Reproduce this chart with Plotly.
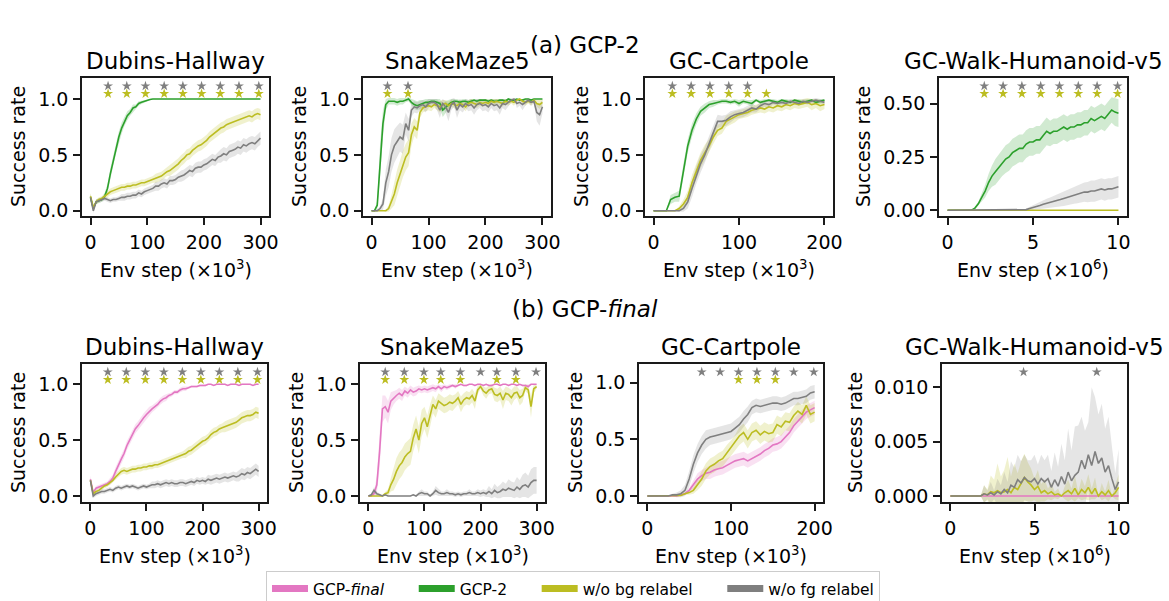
import plotly.graph_objects as go

W, H = 1169, 601
FONT = "DejaVu Sans"
COLORS = {"final": "#e377c2", "gcp2": "#2ca02c", "bg": "#bcbd22", "fg": "#7f7f7f"}
FILLS = {"final": "rgba(227,119,194,0.22)", "gcp2": "rgba(44,160,44,0.22)",
         "bg": "rgba(188,189,34,0.22)", "fg": "rgba(127,127,127,0.2)"}
PAD = "\u00a0" * 5
NAMES = {"final": "GCP-<i>final</i>" + PAD, "gcp2": "GCP-2" + PAD, "bg": "w/o bg relabel" + PAD, "fg": "w/o fg relabel"}

# ---------------- x grids ----------------
steps_300 = list(range(0, 305, 5))          # Env step (x1e3)
steps_200 = list(range(0, 205, 5))          # Env step (x1e3)
steps_hum = [round(0.2 * i, 1) for i in range(51)]  # Env step (x1e6)

# ---------------- (a) GCP-2 : Dubins-Hallway ----------------
a_dub_gcp2 = [0.12,0.02,0.08,0.09,0.10,0.13,0.20,0.33,0.45,0.56,
              0.66,0.74,0.80,0.85,0.88,0.92,0.93,0.96,0.97,0.98,
              0.99,0.995,1.0,1.0,1.0,1.0,1.0,1.0,1.0,1.0,
              1.0,1.0,1.0,1.0,1.0,1.0,1.0,1.0,1.0,1.0,
              1.0,1.0,1.0,1.0,1.0,1.0,1.0,1.0,1.0,1.0,
              1.0,1.0,1.0,1.0,1.0,1.0,1.0,1.0,1.0,1.0,
              1.0]
a_dub_gcp2_sd = [0.03,0.02,0.02,0.02,0.02,0.03,0.04,0.05,0.05,0.05,
                 0.05,0.05,0.04,0.04,0.03,0.03,0.02,0.02,0.015,0.01,
                 0.01,0.005,0.003,0,0,0,0,0,0,0,
                 0,0,0,0,0,0,0,0,0,0,
                 0,0,0,0,0,0,0,0,0,0,
                 0,0,0,0,0,0,0,0,0,0,
                 0]
a_dub_bg = [0.13,0.03,0.08,0.10,0.11,0.13,0.15,0.17,0.18,0.19,
            0.20,0.21,0.21,0.22,0.22,0.23,0.23,0.24,0.25,0.25,
            0.26,0.27,0.28,0.29,0.30,0.31,0.33,0.35,0.36,0.38,
            0.40,0.42,0.45,0.47,0.50,0.51,0.54,0.56,0.58,0.59,
            0.61,0.63,0.66,0.68,0.70,0.72,0.74,0.75,0.77,0.78,
            0.79,0.80,0.81,0.82,0.83,0.84,0.85,0.84,0.86,0.87,
            0.86]
a_dub_bg_sd = [0.03,0.02,0.02,0.02,0.02,0.02,0.03,0.03,0.03,0.03,
               0.03,0.03,0.03,0.03,0.03,0.03,0.03,0.03,0.03,0.03,
               0.03,0.03,0.03,0.04,0.04,0.04,0.04,0.04,0.05,0.05,
               0.05,0.05,0.05,0.05,0.05,0.05,0.05,0.05,0.05,0.05,
               0.05,0.05,0.05,0.05,0.05,0.05,0.05,0.05,0.05,0.05,
               0.05,0.05,0.05,0.05,0.05,0.05,0.05,0.05,0.05,0.05,
               0.05]
a_dub_fg = [0.12,0.00,0.08,0.09,0.10,0.11,0.10,0.09,0.10,0.10,
            0.11,0.12,0.12,0.13,0.13,0.14,0.14,0.16,0.15,0.17,
            0.18,0.19,0.20,0.22,0.22,0.24,0.25,0.24,0.27,0.27,
            0.28,0.30,0.31,0.32,0.34,0.36,0.35,0.38,0.39,0.39,
            0.41,0.42,0.44,0.46,0.45,0.48,0.49,0.51,0.50,0.53,
            0.54,0.55,0.57,0.56,0.59,0.58,0.60,0.61,0.60,0.63,
            0.65]
a_dub_fg_sd = [0.03,0.02,0.02,0.02,0.02,0.02,0.02,0.02,0.02,0.02,
               0.02,0.03,0.03,0.03,0.03,0.03,0.03,0.03,0.03,0.03,
               0.03,0.03,0.03,0.04,0.04,0.04,0.04,0.04,0.04,0.04,
               0.04,0.04,0.05,0.05,0.05,0.05,0.05,0.05,0.05,0.05,
               0.05,0.05,0.05,0.05,0.05,0.05,0.06,0.06,0.06,0.06,
               0.06,0.06,0.06,0.06,0.06,0.06,0.06,0.06,0.06,0.06,
               0.06]

# ---------------- (a) GCP-2 : SnakeMaze5 ----------------
a_snk_gcp2 = [0,0,0.05,0.45,0.78,0.95,0.98,0.98,0.98,0.97,
              0.98,0.98,0.99,1.0,0.97,0.95,0.94,0.95,0.96,0.97,
              0.97,0.98,0.98,0.97,0.96,0.90,0.93,0.95,0.97,0.98,
              0.98,0.97,0.98,0.98,0.97,0.98,0.99,0.98,0.99,0.99,
              0.99,0.98,0.99,0.98,0.98,0.99,0.99,0.98,1.0,0.99,
              0.99,1.0,0.99,0.99,1.0,1.0,0.99,1.0,1.0,1.0,
              1.0]
a_snk_gcp2_sd = [0,0,0.04,0.15,0.12,0.05,0.03,0.03,0.03,0.03,
                 0.03,0.03,0.02,0.02,0.03,0.04,0.04,0.04,0.03,0.03,
                 0.03,0.02,0.02,0.03,0.04,0.06,0.05,0.04,0.03,0.02,
                 0.02,0.02,0.02,0.02,0.02,0.02,0.01,0.02,0.01,0.01,
                 0.01,0.02,0.01,0.02,0.02,0.01,0.01,0.02,0.0,0.01,
                 0.01,0.0,0.01,0.01,0.0,0.0,0.01,0.0,0.0,0.0,
                 0.0]
a_snk_bg = [0,0,0,0,0,0,0.02,0.08,0.15,0.25,
            0.33,0.42,0.48,0.52,0.68,0.75,0.72,0.88,0.92,0.93,
            0.94,0.93,0.95,0.94,0.93,0.95,0.96,0.94,0.96,0.95,
            0.94,0.96,0.95,0.93,0.96,0.97,0.96,0.95,0.97,0.96,
            0.97,0.96,0.98,0.97,0.98,0.97,0.96,0.98,0.97,0.98,
            0.97,0.99,1.0,0.98,0.97,0.98,0.97,0.99,0.96,0.95,
            0.97]
a_snk_bg_sd = [0,0,0,0,0,0.01,0.03,0.06,0.10,0.12,
               0.12,0.12,0.12,0.12,0.10,0.08,0.08,0.05,0.04,0.04,
               0.04,0.04,0.03,0.04,0.05,0.04,0.03,0.04,0.03,0.03,
               0.04,0.03,0.03,0.04,0.03,0.03,0.03,0.03,0.03,0.03,
               0.03,0.03,0.02,0.03,0.02,0.03,0.03,0.02,0.03,0.02,
               0.03,0.01,0.0,0.02,0.03,0.02,0.03,0.01,0.03,0.04,
               0.03]
a_snk_fg = [0,0,0,0.02,0.06,0.25,0.35,0.50,0.58,0.62,
            0.66,0.64,0.78,0.72,0.90,0.93,0.92,0.94,0.95,0.93,
            0.96,0.97,0.97,0.95,0.90,0.96,0.93,0.88,0.95,0.97,
            0.90,0.95,0.93,0.96,0.94,0.95,0.92,0.95,0.96,0.94,
            0.95,0.93,0.96,0.94,0.95,0.92,0.96,0.95,0.97,0.99,
            1.0,0.96,0.97,0.95,0.97,0.99,0.97,0.98,0.88,0.86,
            0.93]
a_snk_fg_sd = [0,0,0,0.02,0.05,0.12,0.14,0.15,0.15,0.14,
               0.13,0.13,0.10,0.10,0.06,0.05,0.05,0.04,0.04,0.05,
               0.04,0.03,0.03,0.05,0.07,0.04,0.05,0.08,0.05,0.04,
               0.07,0.05,0.05,0.04,0.05,0.05,0.06,0.05,0.04,0.05,
               0.05,0.05,0.04,0.05,0.05,0.06,0.04,0.05,0.03,0.02,
               0.0,0.04,0.03,0.05,0.03,0.02,0.03,0.02,0.08,0.10,
               0.06]

# ---------------- (a) GCP-2 : GC-Cartpole ----------------
a_cart_gcp2 = [0,0,0,0,0.10,0.12,0.13,0.36,0.58,0.72,
               0.82,0.89,0.92,0.95,0.96,0.97,0.98,0.98,0.97,0.98,
               0.96,0.98,0.97,0.96,0.99,0.97,0.98,0.99,0.98,0.97,
               0.99,0.98,0.97,0.99,0.98,0.97,0.98,0.99,0.97,0.98,
               0.99]
a_cart_gcp2_sd = [0,0,0,0,0.04,0.04,0.05,0.06,0.06,0.06,
                  0.05,0.04,0.04,0.03,0.03,0.02,0.02,0.02,0.02,0.02,
                  0.03,0.02,0.02,0.03,0.01,0.02,0.02,0.01,0.02,0.02,
                  0.01,0.02,0.02,0.01,0.02,0.02,0.02,0.01,0.02,0.02,
                  0.01]
a_cart_bg = [0,0,0,0,0,0,0.02,0.06,0.12,0.25,
             0.35,0.45,0.52,0.58,0.66,0.72,0.74,0.80,0.82,0.84,
             0.86,0.87,0.88,0.90,0.91,0.92,0.91,0.93,0.92,0.94,
             0.93,0.95,0.94,0.96,0.95,0.96,0.97,0.95,0.96,0.94,
             0.95]
a_cart_bg_sd = [0,0,0,0,0,0,0.02,0.04,0.06,0.07,
                0.07,0.07,0.07,0.06,0.06,0.05,0.05,0.05,0.05,0.05,
                0.04,0.04,0.04,0.04,0.04,0.04,0.04,0.04,0.04,0.04,
                0.04,0.04,0.04,0.04,0.04,0.04,0.04,0.05,0.04,0.05,
                0.04]
a_cart_fg = [0,0,0,0,0,0,0.0,0.02,0.08,0.20,
             0.32,0.42,0.50,0.60,0.70,0.80,0.80,0.81,0.84,0.86,
             0.87,0.88,0.90,0.92,0.91,0.94,0.96,0.95,0.97,0.96,
             0.97,0.96,0.98,0.97,0.96,0.98,0.97,0.98,0.99,0.98,
             0.97]
a_cart_fg_sd = [0,0,0,0,0,0,0.01,0.03,0.06,0.08,
                0.08,0.08,0.07,0.07,0.06,0.06,0.05,0.05,0.05,0.04,
                0.04,0.04,0.04,0.04,0.03,0.03,0.03,0.03,0.02,0.02,
                0.02,0.02,0.02,0.02,0.02,0.02,0.02,0.02,0.02,0.02,
                0.02]

# ---------------- (a) GCP-2 : GC-Walk-Humanoid-v5 ----------------
a_hum_gcp2 = [0,0,0,0,0,0,0,0,0.01,0.03,
              0.06,0.09,0.13,0.16,0.18,0.20,0.22,0.24,0.25,0.27,
              0.28,0.29,0.29,0.31,0.32,0.32,0.33,0.33,0.35,0.37,
              0.36,0.37,0.37,0.38,0.39,0.38,0.39,0.39,0.40,0.40,
              0.41,0.41,0.43,0.42,0.43,0.44,0.43,0.45,0.47,0.46,
              0.455]
a_hum_gcp2_sd = [0,0,0,0,0,0,0,0,0.005,0.01,
                 0.02,0.03,0.04,0.05,0.06,0.06,0.06,0.065,0.065,0.065,
                 0.065,0.065,0.065,0.065,0.065,0.065,0.065,0.065,0.065,0.065,
                 0.06,0.06,0.06,0.06,0.06,0.06,0.06,0.06,0.06,0.06,
                 0.06,0.06,0.06,0.06,0.06,0.06,0.06,0.06,0.06,0.065,
                 0.065]
a_hum_bg = [0,0,0,0,0,0,0,0,0,0,
            0,0,0,0,0,0,0,0,0,0,
            0,0,0,0,0,0,0,0,0,0,
            0,0,0,0,0,0,0,0,0,0,
            0,0,0,0,0,0,0,0,0,0,
            0]
a_hum_bg_sd = [0,0,0,0,0,0,0,0,0,0,
               0,0,0,0,0,0,0,0,0,0,
               0,0,0,0,0,0,0,0,0,0,
               0,0,0,0,0,0,0,0,0,0,
               0,0,0,0,0,0,0,0,0,0,
               0]
a_hum_fg = [0,0,0,0,0,0,0,0,0,0,
            0,0,0,0,0,0,0,0,0,0,
            0,0,0,0.003,0.008,0.012,0.018,0.022,0.028,0.032,
            0.035,0.040,0.045,0.050,0.055,0.060,0.065,0.070,0.075,0.080,
            0.085,0.085,0.090,0.090,0.095,0.100,0.095,0.100,0.100,0.105,
            0.110]
a_hum_fg_sd = [0,0,0,0,0,0,0,0,0,0,
               0,0,0,0,0,0,0,0,0,0,
               0,0,0.002,0.005,0.008,0.012,0.015,0.018,0.020,0.022,
               0.025,0.027,0.030,0.032,0.035,0.037,0.040,0.040,0.042,0.045,
               0.045,0.047,0.050,0.050,0.050,0.050,0.050,0.050,0.050,0.050,
               0.050]

# ---------------- (b) GCP-final : Dubins-Hallway ----------------
b_dub_final = [0.15,0.03,0.07,0.08,0.09,0.10,0.11,0.13,0.16,0.22,
               0.28,0.33,0.38,0.45,0.50,0.55,0.60,0.63,0.67,0.70,
               0.73,0.76,0.78,0.80,0.82,0.85,0.87,0.88,0.90,0.91,
               0.93,0.93,0.95,0.96,0.96,0.97,0.98,0.98,0.98,0.99,
               0.99,0.99,1.0,1.0,0.99,1.0,1.0,1.0,1.0,0.99,
               1.0,1.0,1.0,0.99,1.0,1.0,1.0,1.0,0.99,1.0,
               1.0]
b_dub_final_sd = [0.03,0.02,0.02,0.02,0.02,0.02,0.02,0.03,0.03,0.04,
                  0.04,0.04,0.04,0.04,0.04,0.04,0.04,0.04,0.04,0.04,
                  0.04,0.04,0.03,0.03,0.03,0.03,0.03,0.03,0.02,0.02,
                  0.02,0.02,0.02,0.02,0.02,0.01,0.01,0.01,0.01,0.01,
                  0.01,0.01,0.005,0.005,0.005,0.005,0.005,0.005,0.005,0.005,
                  0.005,0.005,0.005,0.005,0.005,0.005,0.005,0.005,0.005,0.005,
                  0.005]
b_dub_bg = [0.14,0.02,0.04,0.05,0.07,0.09,0.10,0.12,0.14,0.17,
            0.20,0.22,0.23,0.22,0.23,0.24,0.24,0.25,0.25,0.26,
            0.26,0.27,0.27,0.28,0.28,0.29,0.30,0.31,0.32,0.33,
            0.34,0.35,0.36,0.37,0.38,0.40,0.41,0.43,0.45,0.47,
            0.49,0.50,0.52,0.55,0.57,0.58,0.60,0.61,0.62,0.63,
            0.64,0.65,0.66,0.68,0.70,0.71,0.72,0.72,0.73,0.75,
            0.74]
b_dub_bg_sd = [0.02,0.02,0.02,0.02,0.02,0.02,0.02,0.02,0.02,0.03,
               0.03,0.03,0.03,0.03,0.03,0.03,0.03,0.03,0.03,0.03,
               0.03,0.03,0.03,0.03,0.03,0.03,0.03,0.03,0.03,0.03,
               0.03,0.03,0.03,0.03,0.04,0.04,0.04,0.04,0.04,0.04,
               0.04,0.04,0.04,0.04,0.04,0.04,0.04,0.04,0.05,0.05,
               0.05,0.05,0.05,0.05,0.05,0.05,0.05,0.05,0.05,0.05,
               0.05]
b_dub_fg = [0.14,0.00,0.02,0.03,0.04,0.04,0.05,0.06,0.05,0.07,
            0.08,0.07,0.08,0.09,0.08,0.09,0.08,0.07,0.08,0.09,
            0.08,0.09,0.10,0.10,0.11,0.10,0.11,0.12,0.11,0.12,
            0.11,0.11,0.12,0.12,0.11,0.12,0.13,0.12,0.14,0.13,
            0.14,0.13,0.15,0.14,0.15,0.16,0.15,0.16,0.17,0.16,
            0.17,0.18,0.17,0.18,0.20,0.19,0.21,0.20,0.22,0.24,
            0.22]
b_dub_fg_sd = [0.02,0.02,0.02,0.02,0.02,0.02,0.02,0.02,0.02,0.02,
               0.02,0.02,0.02,0.02,0.02,0.02,0.02,0.02,0.02,0.02,
               0.02,0.02,0.03,0.03,0.03,0.03,0.03,0.03,0.03,0.03,
               0.03,0.03,0.03,0.03,0.03,0.03,0.03,0.03,0.03,0.03,
               0.03,0.03,0.04,0.04,0.04,0.04,0.04,0.04,0.04,0.04,
               0.04,0.04,0.04,0.05,0.05,0.05,0.05,0.05,0.05,0.05,
               0.05]

# ---------------- (b) GCP-final : SnakeMaze5 ----------------
b_snk_final = [0,0,0.02,0.10,0.40,0.78,0.80,0.75,0.85,0.88,
               0.90,0.92,0.90,0.94,0.92,0.95,0.93,0.94,0.96,0.95,
               0.96,0.95,0.96,0.97,0.96,0.98,0.96,0.98,0.97,0.98,
               0.99,0.98,0.99,1.0,0.99,0.99,1.0,1.0,0.99,1.0,
               1.0,0.99,1.0,0.99,0.99,1.0,1.0,0.99,1.0,1.0,
               0.99,1.0,1.0,0.99,1.0,0.99,0.99,0.98,1.0,1.0,
               1.0]
b_snk_final_sd = [0,0,0.02,0.08,0.15,0.12,0.10,0.10,0.08,0.06,
                  0.05,0.05,0.05,0.04,0.04,0.04,0.04,0.04,0.03,0.03,
                  0.03,0.03,0.03,0.03,0.03,0.02,0.03,0.02,0.02,0.02,
                  0.01,0.02,0.01,0.0,0.01,0.01,0.0,0.0,0.01,0.0,
                  0.0,0.01,0.0,0.01,0.01,0.0,0.0,0.01,0.0,0.0,
                  0.01,0.0,0.0,0.01,0.0,0.01,0.01,0.02,0.0,0.0,
                  0.0]
b_snk_bg = [0,0,0,0,0,0,0.02,0.03,0.10,0.15,
            0.22,0.27,0.30,0.35,0.38,0.40,0.52,0.60,0.50,0.65,
            0.70,0.62,0.72,0.82,0.78,0.85,0.83,0.81,0.82,0.84,
            0.83,0.85,0.88,0.82,0.86,0.88,0.87,0.90,0.85,0.95,
            0.98,0.94,0.92,0.95,0.96,0.91,0.90,0.92,0.86,0.92,
            0.91,0.88,0.92,0.93,0.88,0.90,0.97,0.95,0.80,0.96,
            0.98]
b_snk_bg_sd = [0,0,0,0,0,0.01,0.02,0.03,0.06,0.10,
               0.12,0.12,0.12,0.12,0.12,0.12,0.12,0.12,0.12,0.12,
               0.10,0.10,0.10,0.08,0.08,0.07,0.07,0.07,0.07,0.07,
               0.07,0.06,0.06,0.07,0.06,0.06,0.06,0.06,0.07,0.04,
               0.02,0.04,0.05,0.04,0.04,0.06,0.06,0.06,0.08,0.06,
               0.06,0.07,0.06,0.05,0.07,0.06,0.03,0.04,0.10,0.04,
               0.02]
b_snk_fg = [0,0.01,0.05,0.02,0.01,0.0,0.01,0.0,0.0,0.0,
            0.0,0.0,0.0,0.0,0.0,0.0,0.01,0.0,0.02,0.03,
            0.02,0.02,0.0,0.02,0.05,0.03,0.02,0.02,0.03,0.02,
            0.02,0.01,0.02,0.01,0.02,0.02,0.03,0.02,0.02,0.03,
            0.02,0.03,0.02,0.04,0.02,0.05,0.03,0.04,0.06,0.05,
            0.07,0.06,0.05,0.08,0.06,0.09,0.10,0.08,0.12,0.14,
            0.14]
b_snk_fg_sd = [0,0.01,0.03,0.02,0.01,0.0,0.01,0.0,0.0,0.0,
               0.0,0.0,0.0,0.0,0.0,0.0,0.01,0.0,0.02,0.03,
               0.02,0.02,0.01,0.02,0.04,0.03,0.02,0.02,0.03,0.02,
               0.02,0.02,0.02,0.02,0.02,0.02,0.03,0.02,0.02,0.03,
               0.03,0.03,0.03,0.05,0.04,0.06,0.05,0.06,0.07,0.06,
               0.08,0.07,0.07,0.09,0.08,0.10,0.11,0.10,0.12,0.12,
               0.12]

# ---------------- (b) GCP-final : GC-Cartpole ----------------
b_cart_final = [0,0,0,0,0,0,0,0,0.01,0.02,
                0.05,0.10,0.15,0.18,0.20,0.21,0.23,0.24,0.25,0.27,
                0.29,0.31,0.32,0.33,0.31,0.33,0.35,0.37,0.40,0.42,
                0.45,0.46,0.48,0.52,0.56,0.62,0.66,0.70,0.74,0.76,
                0.78]
b_cart_final_sd = [0,0,0,0,0,0,0,0,0.005,0.01,
                   0.02,0.04,0.05,0.05,0.05,0.06,0.06,0.06,0.06,0.06,
                   0.06,0.06,0.06,0.06,0.06,0.06,0.06,0.06,0.06,0.06,
                   0.06,0.06,0.06,0.06,0.06,0.06,0.06,0.06,0.06,0.06,
                   0.06]
b_cart_bg = [0,0,0,0,0,0,0,0,0.005,0.02,
             0.03,0.05,0.10,0.15,0.22,0.26,0.28,0.31,0.33,0.38,
             0.42,0.47,0.53,0.56,0.50,0.56,0.58,0.54,0.57,0.55,
             0.56,0.63,0.61,0.66,0.65,0.71,0.75,0.72,0.80,0.72,
             0.74]
b_cart_bg_sd = [0,0,0,0,0,0,0,0,0.005,0.01,
                0.02,0.03,0.05,0.06,0.07,0.07,0.07,0.07,0.07,0.07,
                0.07,0.07,0.08,0.08,0.08,0.08,0.08,0.08,0.08,0.08,
                0.08,0.08,0.08,0.08,0.08,0.08,0.08,0.08,0.08,0.08,
                0.08]
b_cart_fg = [0,0,0,0,0,0,0.01,0.01,0.02,0.05,
             0.15,0.28,0.38,0.45,0.50,0.52,0.53,0.54,0.55,0.56,
             0.57,0.60,0.63,0.68,0.72,0.78,0.80,0.79,0.80,0.81,
             0.82,0.82,0.81,0.82,0.84,0.86,0.86,0.87,0.88,0.91,
             0.92]
b_cart_fg_sd = [0,0,0,0,0,0,0.01,0.02,0.03,0.05,
                0.07,0.08,0.08,0.08,0.08,0.07,0.07,0.07,0.07,0.07,
                0.07,0.07,0.07,0.07,0.07,0.06,0.06,0.06,0.06,0.06,
                0.06,0.06,0.06,0.06,0.06,0.06,0.06,0.06,0.06,0.06,
                0.06]

# ---------------- (b) GCP-final : GC-Walk-Humanoid-v5 ----------------
b_hum_final = [0,0,0,0,0,0,0,0,0,0,
               0,0,0,0,0,0,0,0,0,0,
               0,0,0,0,0,0,0,0,0,0,
               0,0,0,0,0,0,0,0,0,0,
               0,0,0,0,0,0,0,0,0,0,
               0]
b_hum_final_sd = [0,0,0,0,0,0,0,0,0,0,
                  0,0,0,0,0,0,0,0,0,0,
                  0,0,0,0,0,0,0,0,0,0,
                  0,0,0,0,0,0,0,0,0,0,
                  0,0,0,0,0,0,0,0,0,0,
                  0]
b_hum_bg = [0,0,0,0,0,0,0,0,0,0,
            0.0002,0.0001,0.0004,0.0003,0.0005,0.0003,0.0004,0.0006,0.0003,0.0008,
            0.0006,0.0012,0.0017,0.0013,0.0010,0.0006,0.0009,0.0003,0.0005,0.0002,
            0.0004,0.0001,0.0002,0.0000,0.0003,0.0005,0.0002,0.0007,0.0001,0.0006,
            0.0003,0.0008,0.0002,0.0007,0.0000,0.0004,0.0001,0.0005,0.0000,0.0003,
            0.0008]
b_hum_bg_sd = [0,0,0,0,0,0,0,0,0,0,
               0.0008,0.0005,0.0015,0.0012,0.0025,0.0015,0.0020,0.0030,0.0015,0.0022,
               0.0015,0.0020,0.0022,0.0018,0.0015,0.0010,0.0015,0.0008,0.0010,0.0005,
               0.0008,0.0003,0.0005,0.0000,0.0006,0.0010,0.0005,0.0012,0.0003,0.0010,
               0.0006,0.0012,0.0005,0.0010,0.0000,0.0008,0.0003,0.0010,0.0000,0.0006,
               0.0012]
b_hum_fg = [0,0,0,0,0,0,0,0,0,0,
            0.0002,0.0001,0.0003,0.0001,0.0004,0.0002,0.0006,0.0003,0.0010,0.0008,
            0.0015,0.0012,0.0017,0.0014,0.0013,0.0016,0.0011,0.0016,0.0013,0.0016,
            0.0008,0.0015,0.0009,0.0018,0.0011,0.0022,0.0014,0.0019,0.0022,0.0033,
            0.0025,0.0038,0.0028,0.0041,0.0030,0.0035,0.0022,0.0028,0.0016,0.0006,
            0.0013]
b_hum_fg_sd = [0,0,0,0,0,0,0,0,0,0,
               0.0008,0.0004,0.0010,0.0004,0.0012,0.0008,0.0016,0.0010,0.0022,0.0018,
               0.0023,0.0020,0.0021,0.0019,0.0020,0.0022,0.0018,0.0022,0.0020,0.0022,
               0.0015,0.0025,0.0018,0.0030,0.0022,0.0040,0.0028,0.0045,0.0043,0.0040,
               0.0035,0.0030,0.0072,0.0050,0.0045,0.0050,0.0040,0.0045,0.0030,0.0015,
               0.0030]

# ---------------- significance stars (x positions) ----------------
stars_a_dub_fg = [31, 64, 97, 130, 163, 196, 229, 262, 297]
stars_a_dub_bg = [31, 64, 97, 130, 163, 196, 229, 262, 297]
stars_a_snk_fg = [28, 64]
stars_a_snk_bg = [28, 64]
stars_a_cart_fg = [22, 44, 66, 88, 110]
stars_a_cart_bg = [22, 44, 66, 88, 110, 132]
stars_a_hum_fg = [2.15, 3.25, 4.35, 5.45, 6.55, 7.65, 8.75, 9.95]
stars_a_hum_bg = [2.15, 3.25, 4.35, 5.45, 6.55, 7.65, 8.75, 9.95]
stars_b_dub_fg = [31, 64, 98, 131, 164, 197, 230, 263, 298]
stars_b_dub_bg = [31, 64, 98, 131, 164, 197, 230, 263, 298]
stars_b_snk_fg = [30, 64, 99, 129, 164, 200, 229, 263, 299]
stars_b_snk_bg = [30, 64, 99, 129, 164, 229, 263]
stars_b_cart_fg = [65, 87, 109, 131, 153, 175, 199]
stars_b_cart_bg = [109, 131, 153]
stars_b_hum_fg = [4.35, 8.7]
stars_b_hum_bg = []

# ---------------- tick labels ----------------
xticks_300 = [0, 100, 200, 300]
xticks_200 = [0, 100, 200]
xticks_hum = [0, 5, 10]
yticks_rate = [0.0, 0.5, 1.0]
yticks_hum_a = [0.0, 0.25, 0.5]
yticks_hum_b = [0.0, 0.005, 0.01]

titles = ["Dubins-Hallway", "SnakeMaze5", "GC-Cartpole", "GC-Walk-Humanoid-v5"]
row_titles = ["(a) GCP-2", "(b) GCP-<i>final</i>"]

panels = [
    dict(x=steps_300, series=[("gcp2", a_dub_gcp2, a_dub_gcp2_sd), ("bg", a_dub_bg, a_dub_bg_sd), ("fg", a_dub_fg, a_dub_fg_sd)],
         sfg=stars_a_dub_fg, sbg=stars_a_dub_bg, xr=[-15, 315], yr=[-0.047, 1.188], xt=xticks_300, yt=yticks_rate, yf=".1f", exp="3"),
    dict(x=steps_300, series=[("gcp2", a_snk_gcp2, a_snk_gcp2_sd), ("bg", a_snk_bg, a_snk_bg_sd), ("fg", a_snk_fg, a_snk_fg_sd)],
         sfg=stars_a_snk_fg, sbg=stars_a_snk_bg, xr=[-15, 315], yr=[-0.047, 1.188], xt=xticks_300, yt=yticks_rate, yf=".1f", exp="3"),
    dict(x=steps_200, series=[("gcp2", a_cart_gcp2, a_cart_gcp2_sd), ("bg", a_cart_bg, a_cart_bg_sd), ("fg", a_cart_fg, a_cart_fg_sd)],
         sfg=stars_a_cart_fg, sbg=stars_a_cart_bg, xr=[-10, 210], yr=[-0.047, 1.188], xt=xticks_200, yt=yticks_rate, yf=".1f", exp="3"),
    dict(x=steps_hum, series=[("gcp2", a_hum_gcp2, a_hum_gcp2_sd), ("bg", a_hum_bg, a_hum_bg_sd), ("fg", a_hum_fg, a_hum_fg_sd)],
         sfg=stars_a_hum_fg, sbg=stars_a_hum_bg, xr=[-0.5, 10.5], yr=[-0.027, 0.62], xt=xticks_hum, yt=yticks_hum_a, yf=".2f", exp="6"),
    dict(x=steps_300, series=[("final", b_dub_final, b_dub_final_sd), ("bg", b_dub_bg, b_dub_bg_sd), ("fg", b_dub_fg, b_dub_fg_sd)],
         sfg=stars_b_dub_fg, sbg=stars_b_dub_bg, xr=[-15, 315], yr=[-0.054, 1.182], xt=xticks_300, yt=yticks_rate, yf=".1f", exp="3"),
    dict(x=steps_300, series=[("final", b_snk_final, b_snk_final_sd), ("bg", b_snk_bg, b_snk_bg_sd), ("fg", b_snk_fg, b_snk_fg_sd)],
         sfg=stars_b_snk_fg, sbg=stars_b_snk_bg, xr=[-15, 315], yr=[-0.054, 1.182], xt=xticks_300, yt=yticks_rate, yf=".1f", exp="3"),
    dict(x=steps_200, series=[("final", b_cart_final, b_cart_final_sd), ("bg", b_cart_bg, b_cart_bg_sd), ("fg", b_cart_fg, b_cart_fg_sd)],
         sfg=stars_b_cart_fg, sbg=stars_b_cart_bg, xr=[-10, 210], yr=[-0.053, 1.165], xt=xticks_200, yt=yticks_rate, yf=".1f", exp="3"),
    dict(x=steps_hum, series=[("final", b_hum_final, b_hum_final_sd), ("bg", b_hum_bg, b_hum_bg_sd), ("fg", b_hum_fg, b_hum_fg_sd)],
         sfg=stars_b_hum_fg, sbg=stars_b_hum_bg, xr=[-0.5, 10.5], yr=[-0.00055, 0.01215], xt=xticks_hum, yt=yticks_hum_b, yf=".3f", exp="6"),
]

# axes boxes in pixels (left, right, top, bottom)
boxes = [(82, 269, 78, 216), (363, 551, 78, 216), (645, 833, 78, 216), (939, 1127, 78, 216),
         (82, 267, 364, 502), (360, 545, 364, 502), (639, 823, 364, 502), (942, 1127, 364, 502)]
ylab_off = {".1f": 64, ".2f": 76, ".3f": 87}

fig = go.Figure()
layout = dict(width=W, height=H, margin=dict(l=0, r=0, t=0, b=0, autoexpand=False),
              paper_bgcolor="white", plot_bgcolor="white",
              font=dict(family=FONT, size=19, color="black"), showlegend=True)
annotations = []

for i, p in enumerate(panels):
    n = i + 1
    xa = "x" if n == 1 else f"x{n}"
    ya = "y" if n == 1 else f"y{n}"
    xs = p["x"]
    for key, mean, sd in p["series"]:
        upper = [m + s for m, s in zip(mean, sd)]
        lower = [m - s for m, s in zip(mean, sd)]
        fig.add_trace(go.Scatter(x=list(xs) + list(xs)[::-1], y=upper + lower[::-1], fill="toself",
                                 fillcolor=FILLS[key], line=dict(width=0), mode="lines",
                                 hoverinfo="skip", showlegend=False, xaxis=xa, yaxis=ya))
    for key, mean, sd in p["series"]:
        fig.add_trace(go.Scatter(x=xs, y=mean, mode="lines", line=dict(color=COLORS[key], width=1.6),
                                 showlegend=False, xaxis=xa, yaxis=ya))
    y0, y1 = p["yr"]
    for stars, frac, key in [(p["sfg"], 0.942, "fg"), (p["sbg"], 0.886, "bg")]:
        if stars:
            fig.add_trace(go.Scatter(x=stars, y=[y0 + frac * (y1 - y0)] * len(stars), mode="markers",
                                     marker=dict(symbol="star", size=7.5, color=COLORS[key], line=dict(width=0)),
                                     showlegend=False, xaxis=xa, yaxis=ya))
    L, R, T, B = boxes[i]
    common = dict(showline=True, mirror=True, linecolor="#1a1a1a", linewidth=1.5, ticks="outside",
                  ticklen=7, tickwidth=1.5, tickcolor="#1a1a1a", showgrid=False, zeroline=False,
                  tickfont=dict(family=FONT, size=19, color="black"), automargin=False)
    layout["xaxis" if n == 1 else f"xaxis{n}"] = dict(
        domain=[L / W, R / W], range=p["xr"], tickvals=p["xt"], anchor=ya, ticklabelstandoff=1, **common)
    layout["yaxis" if n == 1 else f"yaxis{n}"] = dict(
        domain=[1 - B / H, 1 - T / H], range=[y0, y1], tickvals=p["yt"], tickformat=p["yf"], anchor=xa,
        ticklabelstandoff=1, **common)
    annotations.append(dict(text=titles[i % 4], x=(L + R) / 2 / W, y=1 - (T - 2) / H, xref="paper", yref="paper",
                            xanchor="center", yanchor="bottom", showarrow=False,
                            font=dict(family=FONT, size=23, color="black")))
    annotations.append(dict(text=f"Env step (×10<sup>{p['exp']}</sup>)", x=(L + R) / 2 / W, y=1 - (B + 53) / H,
                            xref="paper", yref="paper", xanchor="center", yanchor="middle", showarrow=False,
                            font=dict(family=FONT, size=19, color="black")))
    annotations.append(dict(text="Success rate", x=(L - ylab_off[p["yf"]]) / W, y=1 - (T + B) / 2 / H,
                            xref="paper", yref="paper", xanchor="center", yanchor="middle", textangle=-90,
                            showarrow=False, font=dict(family=FONT, size=19, color="black")))

for txt, yc in zip(row_titles, [45, 309]):
    annotations.append(dict(text=txt, x=584.5 / W, y=1 - yc / H, xref="paper", yref="paper",
                            xanchor="center", yanchor="middle", showarrow=False,
                            font=dict(family=FONT, size=23, color="black")))

for key in ["final", "gcp2", "bg", "fg"]:
    fig.add_trace(go.Scatter(x=[None], y=[None], mode="lines", name=NAMES[key],
                             line=dict(color=COLORS[key], width=7), showlegend=True, xaxis="x", yaxis="y"))

layout["annotations"] = annotations
layout["legend"] = dict(orientation="h", x=573 / W, xanchor="center", y=1 - 571 / H, yanchor="top",
                        font=dict(family=FONT, size=15.5, color="black"), bordercolor="#cccccc", borderwidth=1,
                        bgcolor="white", itemwidth=36, traceorder="normal")
fig.update_layout(**layout)
fig.write_html("out.html", config={"displayModeBar": False},
               post_script="document.body.style.margin='0';document.body.style.padding='0';")
